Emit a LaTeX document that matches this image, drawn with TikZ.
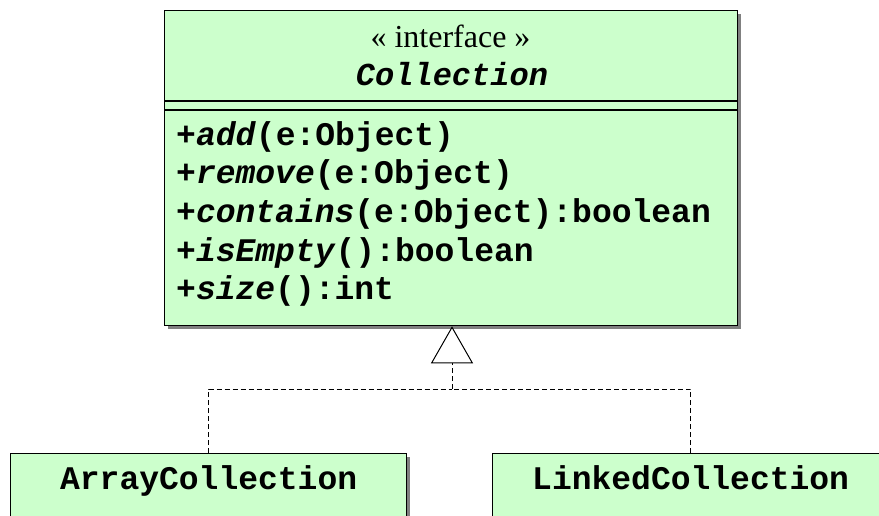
\documentclass[tikz,border=0pt]{standalone}
\usepackage{fontspec}
\setmainfont{Liberation Serif}
\setmonofont{Liberation Mono}
\usetikzlibrary{calc,matrix,arrows.meta,shadows}

\definecolor{umlgreen}{RGB}{204,255,204}

\tikzset{
  umlclass/.style={draw=black, line width=1.3pt, fill=umlgreen, rectangle, inner sep=0pt,
    drop shadow={shadow xshift=3pt, shadow yshift=-3pt, fill=black!50, opacity=1}},
  realize/.style={line width=1pt, dash pattern=on 5pt off 3pt},
  umlfont/.style={font=\fontsize{33}{38}\selectfont\ttfamily\bfseries},
}

\begin{document}
\begin{tikzpicture}[x=1pt, y=-1pt]
              \clip (0,0) rectangle (879,515);

              \node[umlclass, anchor=north west, minimum width=573, minimum height=315] (coll) at (164,10) {};
              \draw[line width=1.3pt] ($(coll.north west)+(0,91)$) -- ($(coll.north east)+(0,91)$);
              \draw[line width=1.3pt] ($(coll.north west)+(0,100)$) -- ($(coll.north east)+(0,100)$);

              \node[font=\fontsize{32}{38}\selectfont, anchor=base, inner sep=0pt] (stereo) at (450.5,47) {« interface »};
              \node[umlfont, anchor=base, inner sep=0pt] (cname) at (452,85) {\fontsize{32}{38}\selectfont\itshape Collection};

              \matrix [%
                matrix of nodes,
                anchor=north west,
                inner sep=0pt,
                row sep=0pt,
                nodes={umlfont, anchor=base west, inner sep=0pt, text height=25pt, text depth=13.6pt}
              ] (ops) at (176,120) {%
                +\textit{add}(e:Object) \\
                +\textit{remove}(e:Object) \\
                +\textit{contains}(e:Object):boolean \\
                +\textit{isEmpty}():boolean \\
                +\textit{size}():int \\
              };

              \node[umlclass, umlfont, anchor=north west, minimum width=396, inner ysep=11pt,
                text height=25pt, text depth=33pt] (arr) at (10,453) {ArrayCollection};
              \node[umlclass, umlfont, anchor=north west, minimum width=396, inner ysep=11pt,
                text height=25pt, text depth=33pt] (lnk) at (492,453) {LinkedCollection};

              \coordinate (join) at (452,389);
              \draw[realize] (arr.north) |- (join);
              \draw[realize] (lnk.north) |- (join);
              \draw[realize, -{Triangle[open, length=37pt, width=42pt]}] (join) -- (coll.south -| join);
            \end{tikzpicture}
\end{document}
